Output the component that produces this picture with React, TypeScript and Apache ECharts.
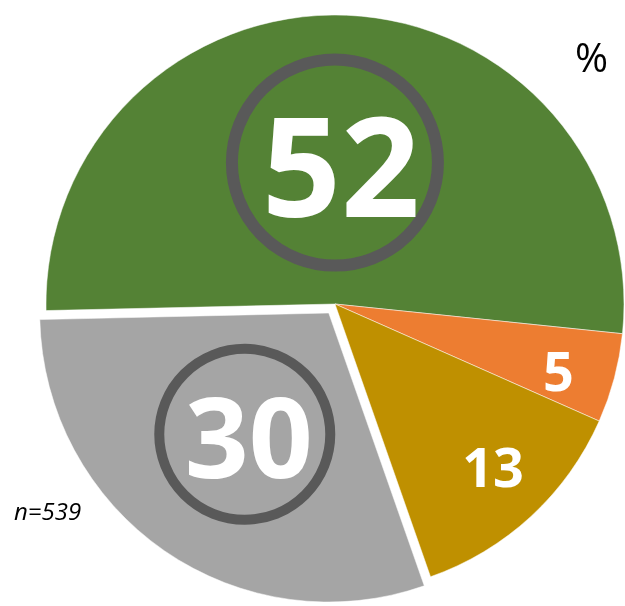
import React, { useEffect, useRef } from "react";
import * as echarts from "echarts";

const categories = ["Category 1", "Category 2", "Category 3", "Category 4"];
const values = [52, 5, 13, 30];
const colors = ["#548235", "#ED7D31", "#BF9000", "#A5A5A5"];
const unitLabel = "%";
const sampleLabel = "n=539";

const FONT = "'Open Sans', 'Noto Sans', sans-serif";

export default function App() {
  const ref = useRef<HTMLDivElement>(null);
  useEffect(() => {
    if (!ref.current) return;
    const chart = echarts.init(ref.current, undefined, { renderer: "svg" });
    const labelStyles: any[] = [
      {
        fontSize: 138,
        width: 194,
        height: 200,
        lineHeight: 200,
        padding: [0, 0, 6, 12],
        borderColor: "#595959",
        borderWidth: 12,
        borderRadius: 103,
        offset: [-6, 6],
      },
      { fontSize: 54, offset: [81, 28] },
      { fontSize: 54, offset: [58, 54] },
      {
        fontSize: 112,
        width: 163,
        height: 171,
        lineHeight: 171,
        padding: [0, 0, 0, 8],
        borderColor: "#595959",
        borderWidth: 10,
        borderRadius: 85.5,
        offset: [-7, 2],
      },
    ];
    const data = categories.map((name, i) => ({
      name,
      value: values[i],
      selected: i === 3,
      itemStyle: { color: colors[i] },
      label: {
        show: true,
        position: "inside",
        formatter: "{c}",
        color: "#ffffff",
        fontWeight: "bold",
        fontFamily: FONT,
        align: "center",
        verticalAlign: "middle",
        ...labelStyles[i],
      },
    }));
    chart.setOption({
      animation: false,
      series: [
        {
          type: "pie",
          center: [335, 304],
          radius: 289,
          startAngle: 181.3,
          clockwise: true,
          selectedMode: "single",
          selectedOffset: 11,
          avoidLabelOverlap: false,
          labelLine: { show: false },
          itemStyle: { borderColor: "#ffffff", borderWidth: 0.5 },
          emphasis: { disabled: true },
          select: { itemStyle: { borderColor: "#ffffff", borderWidth: 0.5 } },
          data,
        },
      ],
      graphic: [
        {
          type: "text",
          left: 575,
          top: 36,
          style: { text: unitLabel, fontSize: 40, fill: "#000", fontFamily: FONT },
        },
        {
          type: "text",
          left: 14,
          top: 498,
          style: {
            text: sampleLabel,
            fontSize: 24,
            fontStyle: "italic",
            fill: "#000",
            fontFamily: FONT,
          },
        },
      ],
    });
    return () => chart.dispose();
  }, []);
  return (
    <div
      ref={ref}
      style={{ position: "fixed", left: 0, top: 0, width: 625, height: 606 }}
    />
  );
}
